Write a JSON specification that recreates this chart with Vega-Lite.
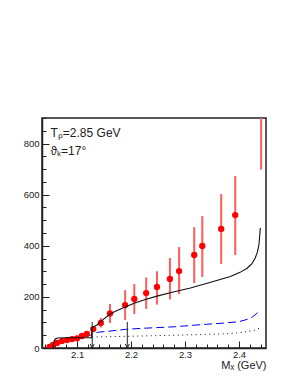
{
  "$schema": "https://vega.github.io/schema/vega-lite/v6.json",
  "width": 224,
  "height": 230,
  "autosize": "none",
  "padding": {"left": 42, "top": 118, "right": 34, "bottom": 34},
  "background": "white",
  "config": {
    "view": {"stroke": "#222", "strokeWidth": 1.5},
    "font": "Liberation Sans",
    "axis": {"grid": false, "domainColor": "#222", "domainWidth": 1.5, "tickColor": "#222", "labelColor": "#222", "labelFont": "Liberation Sans", "labelFontSize": 9.5, "titleFont": "Liberation Sans", "titleFontWeight": "normal", "titleColor": "#222"}
  },
  "datasets": {
    "pts": [
      {"x": 2.049, "y": 4, "lo": 0, "hi": 8},
      {"x": 2.0554, "y": 12, "lo": 5, "hi": 19},
      {"x": 2.0628, "y": 20, "lo": 13, "hi": 27},
      {"x": 2.0721, "y": 27, "lo": 20, "hi": 34},
      {"x": 2.0814, "y": 31, "lo": 24, "hi": 38},
      {"x": 2.0907, "y": 35, "lo": 27, "hi": 43},
      {"x": 2.100, "y": 38, "lo": 30, "hi": 46},
      {"x": 2.109, "y": 47, "lo": 38, "hi": 56},
      {"x": 2.118, "y": 55, "lo": 45, "hi": 65},
      {"x": 2.130, "y": 74, "lo": 62, "hi": 86},
      {"x": 2.144, "y": 98, "lo": 80, "hi": 118},
      {"x": 2.161, "y": 135, "lo": 98, "hi": 172},
      {"x": 2.189, "y": 168, "lo": 110, "hi": 226},
      {"x": 2.206, "y": 192, "lo": 133, "hi": 250},
      {"x": 2.228, "y": 215, "lo": 153, "hi": 276},
      {"x": 2.248, "y": 239, "lo": 170, "hi": 300},
      {"x": 2.272, "y": 270, "lo": 190, "hi": 352},
      {"x": 2.289, "y": 301, "lo": 211, "hi": 395},
      {"x": 2.317, "y": 364, "lo": 254, "hi": 473},
      {"x": 2.332, "y": 399, "lo": 278, "hi": 516},
      {"x": 2.367, "y": 466, "lo": 329, "hi": 602},
      {"x": 2.393, "y": 520, "lo": 364, "hi": 673},
      {"x": 2.441, "y": 960, "lo": 698, "hi": 1220}
    ],
    "total": [
      {"x": 2.0554, "y": 0}, {"x": 2.0565, "y": 18}, {"x": 2.058, "y": 30}, {"x": 2.060, "y": 36},
      {"x": 2.064, "y": 39}, {"x": 2.080, "y": 40}, {"x": 2.100, "y": 40}, {"x": 2.127, "y": 40},
      {"x": 2.1275, "y": 80}, {"x": 2.137, "y": 90}, {"x": 2.143, "y": 102}, {"x": 2.161, "y": 133},
      {"x": 2.175, "y": 148}, {"x": 2.189, "y": 160}, {"x": 2.207, "y": 176}, {"x": 2.228, "y": 191},
      {"x": 2.248, "y": 203}, {"x": 2.278, "y": 219}, {"x": 2.310, "y": 235}, {"x": 2.341, "y": 253},
      {"x": 2.365, "y": 268}, {"x": 2.384, "y": 280}, {"x": 2.402, "y": 296}, {"x": 2.415, "y": 312},
      {"x": 2.424, "y": 330}, {"x": 2.430, "y": 352}, {"x": 2.434, "y": 375}, {"x": 2.437, "y": 405},
      {"x": 2.4395, "y": 470}
    ],
    "blue": [
      {"x": 2.0554, "y": 0}, {"x": 2.060, "y": 15}, {"x": 2.065, "y": 25}, {"x": 2.075, "y": 32},
      {"x": 2.090, "y": 37}, {"x": 2.110, "y": 43}, {"x": 2.125, "y": 50}, {"x": 2.130, "y": 58},
      {"x": 2.140, "y": 62}, {"x": 2.160, "y": 66}, {"x": 2.190, "y": 73}, {"x": 2.220, "y": 77},
      {"x": 2.250, "y": 80}, {"x": 2.280, "y": 83}, {"x": 2.310, "y": 88}, {"x": 2.340, "y": 93},
      {"x": 2.370, "y": 97}, {"x": 2.400, "y": 103}, {"x": 2.415, "y": 112}, {"x": 2.425, "y": 122},
      {"x": 2.432, "y": 133}, {"x": 2.438, "y": 150}
    ],
    "dot": [
      {"x": 2.128, "y": 43}, {"x": 2.200, "y": 46}, {"x": 2.300, "y": 51}, {"x": 2.380, "y": 56},
      {"x": 2.410, "y": 62}, {"x": 2.430, "y": 70}, {"x": 2.438, "y": 78}
    ],
    "arrows": [
      {"x": 2.128, "top": 102, "bottom": 0},
      {"x": 2.193, "top": 102, "bottom": 0}
    ],
    "labels": [
      {"x": 2.0508, "y": 825, "text": "Tₚ=2.85 GeV"},
      {"x": 2.0508, "y": 755, "text": "ϑₖ=17°"}
    ]
  },
  "encoding": {
    "x": {"type": "quantitative", "scale": {"domain": [2.035, 2.45], "nice": false, "zero": false},
      "axis": {"title": "Mₓ (GeV)", "titleFontSize": 11, "titleAnchor": "end", "titlePadding": -2,
        "values": [2.04, 2.06, 2.08, 2.1, 2.12, 2.14, 2.16, 2.18, 2.2, 2.22, 2.24, 2.26, 2.28, 2.3, 2.32, 2.34, 2.36, 2.38, 2.4, 2.42, 2.44],
        "labelExpr": "abs(datum.value*10 - round(datum.value*10)) < 0.001 ? format(datum.value, '.1f') : ''",
        "labelOverlap": false, "labelPadding": 8,
        "tickSize": {"condition": {"test": "abs(datum.value*10 - round(datum.value*10)) < 0.001", "value": -7}, "value": -4}}},
    "y": {"type": "quantitative", "scale": {"domain": [0, 900], "nice": false},
      "axis": {"title": null,
        "values": [0, 50, 100, 150, 200, 250, 300, 350, 400, 450, 500, 550, 600, 650, 700, 750, 800, 850, 900],
        "labelExpr": "datum.value % 200 === 0 ? datum.label : ''",
        "labelOverlap": false, "labelPadding": 10,
        "tickSize": {"condition": {"test": "datum.value % 200 === 0", "value": -7}, "value": -4}}}
  },
  "layer": [
    {"data": {"name": "dot"}, "mark": {"type": "line", "color": "#111", "strokeWidth": 1, "strokeDash": [1, 3.5], "clip": true},
      "encoding": {"x": {"field": "x"}, "y": {"field": "y"}}},
    {"data": {"name": "blue"}, "mark": {"type": "line", "color": "#0000ee", "strokeWidth": 1, "strokeDash": [8, 4], "clip": true},
      "encoding": {"x": {"field": "x"}, "y": {"field": "y"}}},
    {"data": {"name": "pts"}, "mark": {"type": "rule", "color": "#ff5c5c", "strokeWidth": 2, "clip": true},
      "encoding": {"x": {"field": "x"}, "y": {"field": "lo"}, "y2": {"field": "hi"}}},
    {"data": {"name": "pts"}, "mark": {"type": "point", "shape": "circle", "filled": true, "color": "#ff0000", "opacity": 1, "size": 40, "clip": true},
      "encoding": {"x": {"field": "x"}, "y": {"field": "y"}}},
    {"data": {"name": "total"}, "mark": {"type": "line", "color": "#111", "strokeWidth": 1.1, "clip": true},
      "encoding": {"x": {"field": "x"}, "y": {"field": "y"}}},
    {"data": {"name": "arrows"}, "mark": {"type": "rule", "color": "#222", "strokeWidth": 1},
      "encoding": {"x": {"field": "x"}, "y": {"field": "top"}, "y2": {"field": "bottom"}}},
    {"data": {"name": "arrows"}, "mark": {"type": "point", "shape": "M-1,-2L0,0L1,-2", "filled": false, "color": "#222", "strokeWidth": 1, "size": 16, "opacity": 1},
      "encoding": {"x": {"field": "x"}, "y": {"field": "bottom"}}},
    {"data": {"name": "labels"}, "mark": {"type": "text", "align": "left", "baseline": "alphabetic", "font": "Liberation Sans", "fontSize": 12, "color": "#222"},
      "encoding": {"x": {"field": "x"}, "y": {"field": "y"}, "text": {"field": "text"}}}
  ]
}
